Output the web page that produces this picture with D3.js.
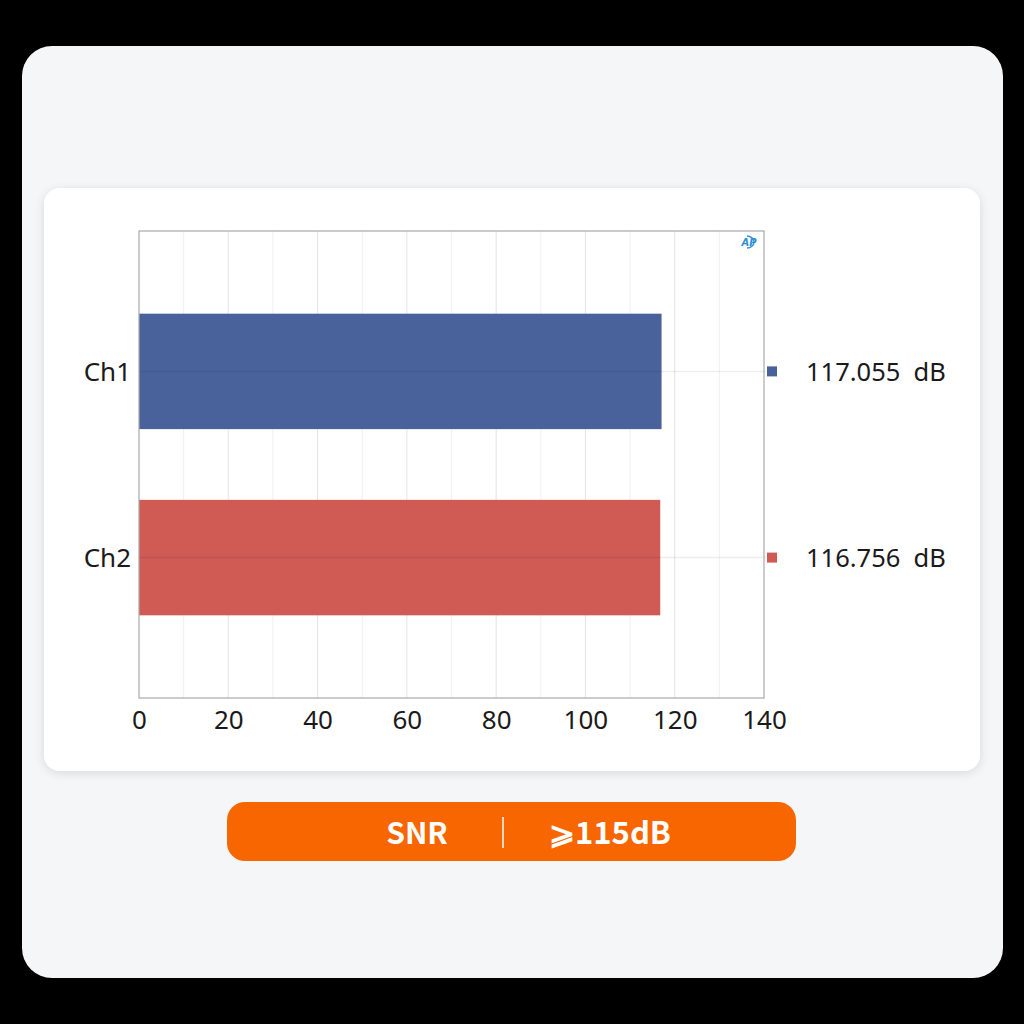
<!DOCTYPE html>
<html><head><meta charset="utf-8">
<script src="https://cdn.jsdelivr.net/npm/d3@7/dist/d3.min.js"></script>
<style>
html,body{margin:0;padding:0;background:#000;}
svg{display:block;}
</style></head>
<body>
<svg id="c" width="1024" height="1024"></svg>
<script>
const categories = ["Ch1", "Ch2"];
const values = [117.055, 116.756];
const valueLabels = ["117.055  dB", "116.756  dB"];
const colors = ["#4a629c", "#d05a54"];
const xTicks = [0, 20, 40, 60, 80, 100, 120, 140];
const badgeLeft = "SNR";
const badgeRight = "⩾115dB";

const svg = d3.select("#c");
const defs = svg.append("defs");
const f = defs.append("filter").attr("id","sh").attr("x","-10%").attr("y","-10%").attr("width","120%").attr("height","120%");
f.append("feDropShadow").attr("dx",0).attr("dy",2).attr("stdDeviation",5).attr("flood-color","#000").attr("flood-opacity",0.12);

svg.append("rect").attr("width",1024).attr("height",1024).attr("fill","#000");
svg.append("rect").attr("x",22).attr("y",46).attr("width",981).attr("height",932).attr("rx",30).attr("fill","#f5f6f8");
svg.append("rect").attr("x",44).attr("y",188).attr("width",936).attr("height",583).attr("rx",16).attr("fill","#fff").attr("filter","url(#sh)");

const L=139, R=764, T=231, B=698;
const x = d3.scaleLinear().domain([0,140]).range([L,R]);
const y = d3.scaleBand().domain(categories).range([T,B]).paddingInner(0.38).paddingOuter(0.444);
const FONT = "'Noto Sans', 'Open Sans', sans-serif";

const g = svg.append("g");
g.selectAll("line.minor").data(d3.range(10,140,20)).join("line")
  .attr("x1",d=>x(d)).attr("x2",d=>x(d)).attr("y1",T).attr("y2",B)
  .attr("stroke","#f0f0f0").attr("stroke-width",1);
g.selectAll("line.major").data(xTicks.filter(d=>d>0&&d<140)).join("line")
  .attr("x1",d=>x(d)).attr("x2",d=>x(d)).attr("y1",T).attr("y2",B)
  .attr("stroke","#e4e4e4").attr("stroke-width",1);

g.selectAll("rect.bar").data(values).join("rect")
  .attr("x",x(0)).attr("y",(d,i)=>y(categories[i]))
  .attr("width",d=>x(d)-x(0)).attr("height",y.bandwidth())
  .attr("fill",(d,i)=>colors[i]);

g.selectAll("line.conn").data(values).join("line")
  .attr("x1",L).attr("x2",R+2).attr("y1",(d,i)=>y(categories[i])+y.bandwidth()/2).attr("y2",(d,i)=>y(categories[i])+y.bandwidth()/2)
  .attr("stroke","#000").attr("stroke-opacity",0.07).attr("stroke-width",1.5);

g.append("rect").attr("x",L).attr("y",T).attr("width",R-L).attr("height",B-T)
  .attr("fill","none").attr("stroke","#a8a8a8").attr("stroke-width",1.2);

const xa = svg.append("g").attr("transform",`translate(0,${B})`)
  .call(d3.axisBottom(x).tickValues(xTicks).tickSize(0).tickPadding(13));
xa.select(".domain").remove();
xa.selectAll("text").attr("font-family",FONT).attr("font-size",26).attr("fill","#1a1a1a");

const ya = svg.append("g").attr("transform",`translate(${L},0)`)
  .call(d3.axisLeft(y).tickSize(0).tickPadding(8));
ya.select(".domain").remove();
ya.selectAll("text").attr("font-family",FONT).attr("font-size",26).attr("fill","#1a1a1a").attr("dy","0.38em");

svg.selectAll("rect.mk").data(values).join("rect")
  .attr("x",767).attr("y",(d,i)=>y(categories[i])+y.bandwidth()/2-5).attr("width",10).attr("height",10)
  .attr("fill",(d,i)=>colors[i]);
svg.selectAll("text.vl").data(valueLabels).join("text")
  .attr("x",806).attr("y",(d,i)=>y(categories[i])+y.bandwidth()/2)
  .attr("dy","0.38em").attr("xml:space","preserve").style("white-space","pre")
  .attr("font-family",FONT).attr("font-size",25.5).attr("fill","#1a1a1a")
  .text(d=>d);

const ap = svg.append("g").attr("transform","translate(750,242)");
ap.append("path").attr("d","M -3 -6 A 7 6 0 1 1 -3 6").attr("fill","none").attr("stroke","#2f8fd0").attr("stroke-width",1.4);
ap.append("text").attr("x",-1).attr("y",4).attr("text-anchor","middle").attr("font-family","'DejaVu Sans', sans-serif")
  .attr("font-size",10).attr("font-weight","bold").attr("font-style","italic").attr("fill","#2f8fd0").text("AP");

svg.append("rect").attr("x",227).attr("y",802).attr("width",569).attr("height",59).attr("rx",18).attr("fill","#f76600");
svg.append("line").attr("x1",503).attr("x2",503).attr("y1",817).attr("y2",848).attr("stroke","#fff").attr("stroke-width",1.5);
svg.append("text").attr("x",417).attr("y",833).attr("dy","0.36em").attr("text-anchor","middle")
  .attr("font-family","'Noto Sans CJK SC', 'Noto Sans', sans-serif").attr("font-weight","bold").attr("font-size",30).attr("fill","#fff").text(badgeLeft);
svg.append("text").attr("x",610).attr("y",833).attr("dy","0.36em").attr("text-anchor","middle")
  .attr("font-family","'Noto Sans CJK SC', 'Noto Sans', sans-serif").attr("font-weight","bold").attr("font-size",31).attr("fill","#fff").text(badgeRight);
</script>
</body></html>
